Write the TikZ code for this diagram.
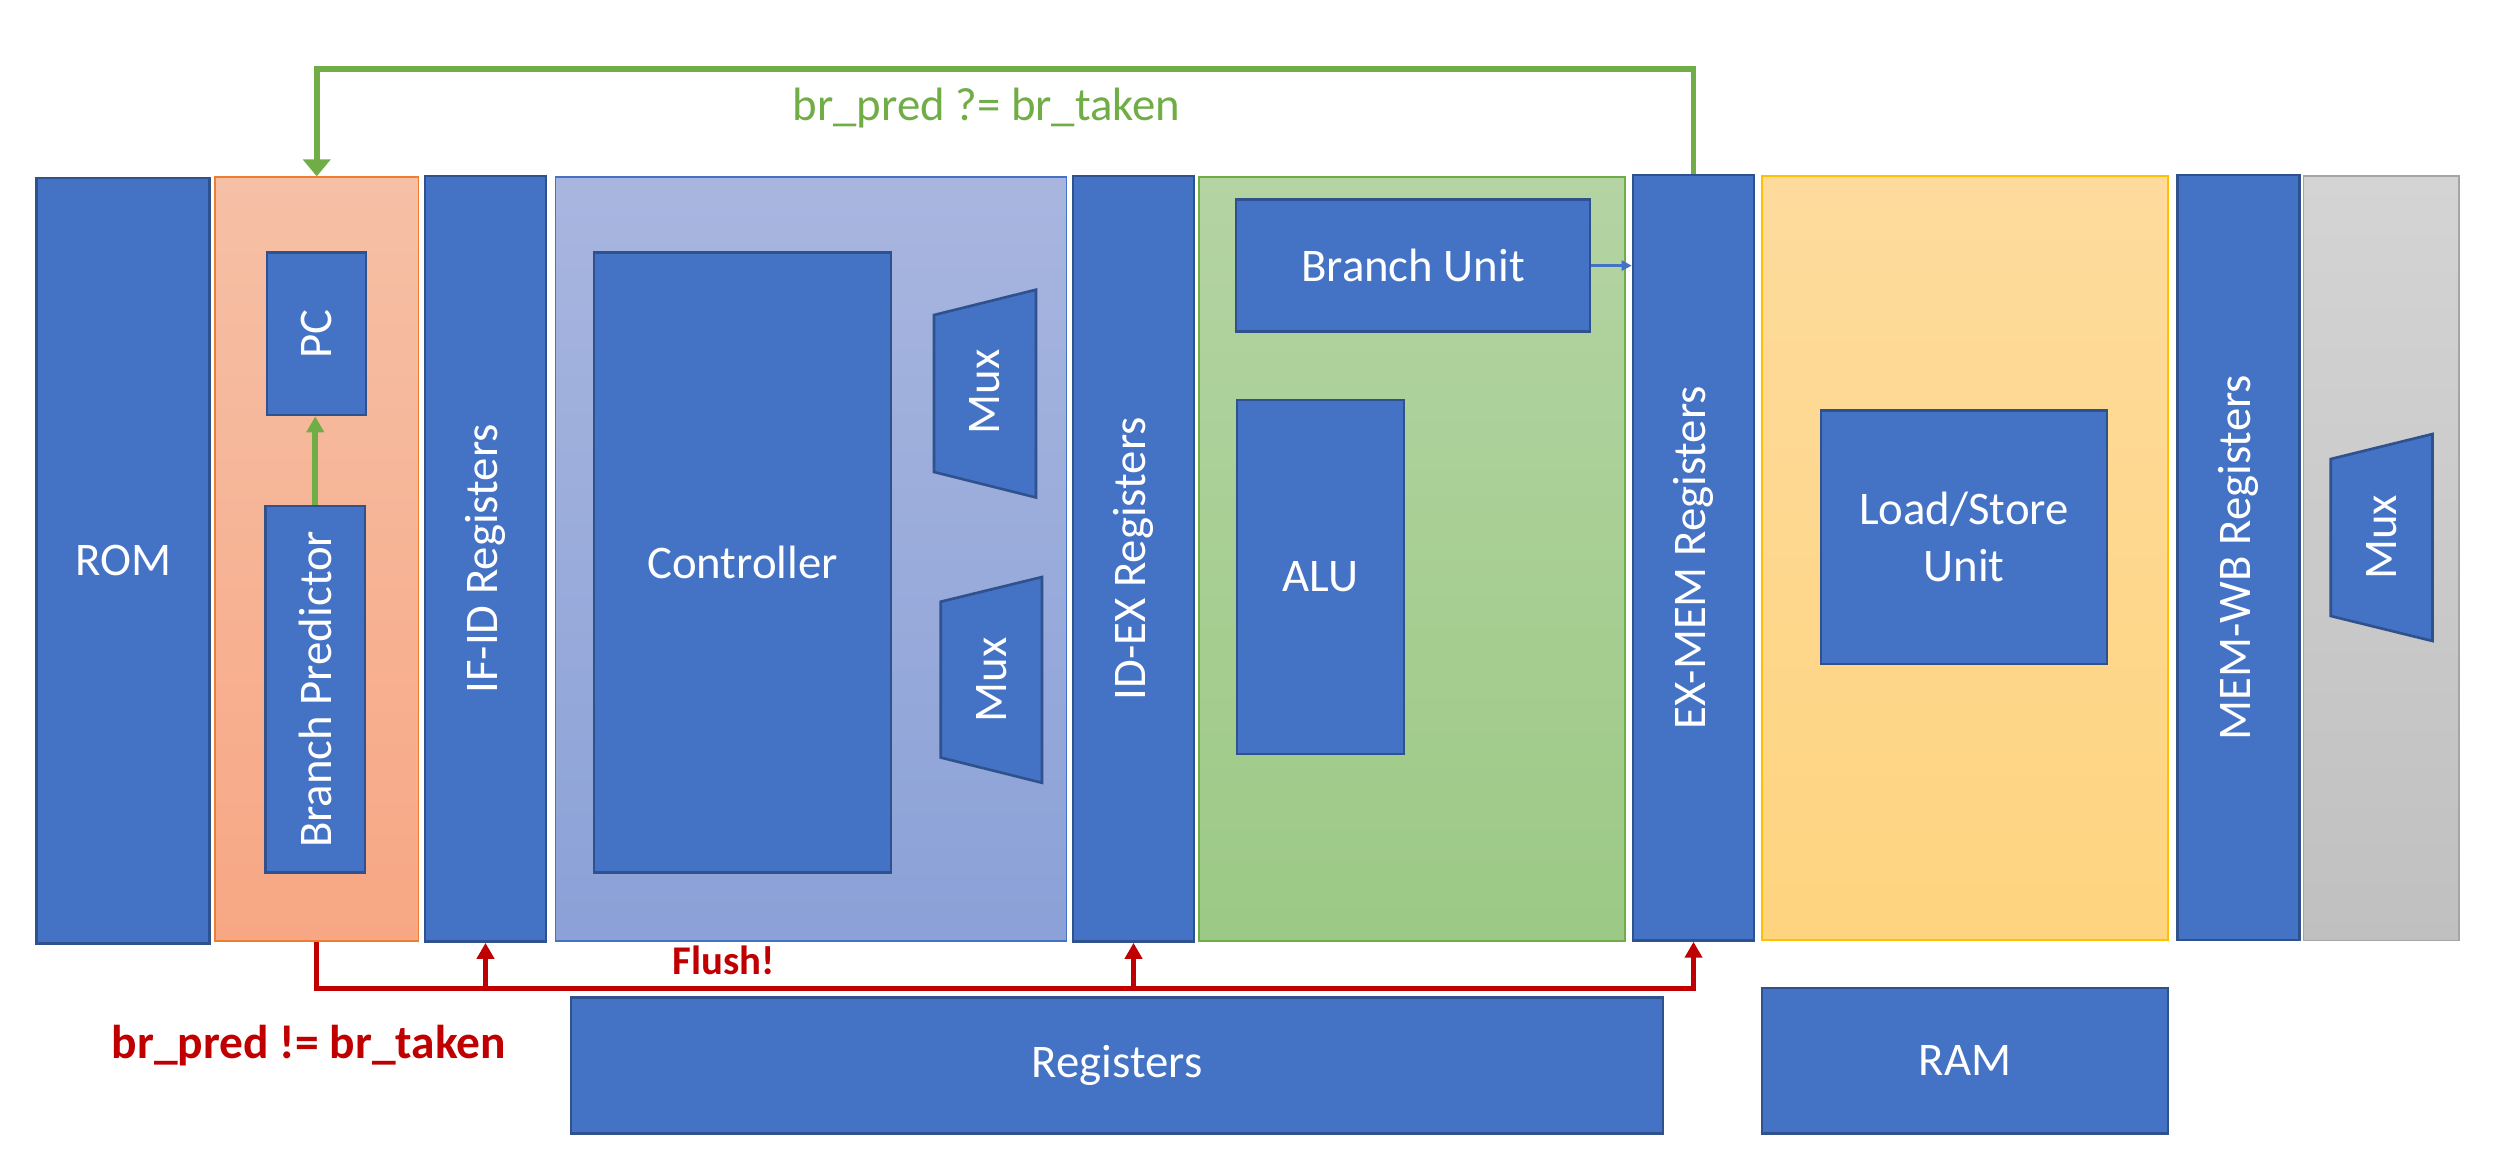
\documentclass[tikz,border=0pt]{standalone}
\usepackage{fontspec}
\setmainfont{Carlito}
\usetikzlibrary{arrows.meta}
\definecolor{blkfill}{HTML}{4472C4}
\definecolor{blkdraw}{HTML}{2F528F}
\definecolor{grnline}{HTML}{70AD47}
\definecolor{redline}{HTML}{C00000}
\newcommand\boxat[6]{\node[#1, minimum width={(#4-#2)*0.01cm}, minimum height={(#5-#3)*0.01cm}] (#6) at ({(#2+#4)/2},{(#3+#5)/2}) {};}
\begin{document}
\begin{tikzpicture}[x=0.01cm,y=-0.01cm,
  blkbox/.style={rectangle, inner sep=0pt, fill=blkfill, draw=blkdraw, line width=0.75pt},
  stagebg/.style={rectangle, inner sep=0pt, line width=0.35pt},
  wtxt/.style={text=white, font=\fontsize{13.3pt}{16.2pt}\selectfont, inner sep=0pt, align=center},
  muxshape/.style={fill=blkfill, draw=blkdraw, line width=0.75pt},
  grnln/.style={draw=grnline, line width=1.65pt},
  redln/.style={draw=redline, line width=1.5pt},
  tipg/.style={-{Triangle[length=0.16cm,width=0.17cm]}},
  tipwide/.style={-{Triangle[length=0.17cm,width=0.27cm]}},
]
\useasboundingbox (0,0) rectangle (2507,1148);

% stage backgrounds
\boxat{stagebg, top color={rgb,255:red,246;green,192;blue,166}, bottom color={rgb,255:red,247;green,167;blue,132}, draw={rgb,255:red,237;green,125;blue,49}}{215}{177}{418.5}{941}{ifst}
\boxat{stagebg, top color={rgb,255:red,168;green,182;blue,223}, bottom color={rgb,255:red,139;green,161;blue,215}, draw=blkfill}{555.7}{177}{1066.7}{941}{idst}
\boxat{stagebg, top color={rgb,255:red,180;green,212;blue,163}, bottom color={rgb,255:red,156;green,201;blue,133}, draw=grnline}{1199}{177}{1625}{941}{exst}
\boxat{stagebg, top color={rgb,255:red,254;green,219;blue,157}, bottom color={rgb,255:red,254;green,212;blue,127}, draw={rgb,255:red,255;green,192;blue,0}}{1762}{176}{2168}{940}{memst}
\boxat{stagebg, top color={rgb,255:red,212;green,212;blue,212}, bottom color={rgb,255:red,192;green,192;blue,192}, draw={rgb,255:red,165;green,165;blue,165}}{2303.4}{176}{2459}{940.4}{wbst}

% blocks
\boxat{blkbox}{36.7}{178}{209.7}{943.3}{rom}
\boxat{blkbox}{267}{252.6}{366}{415}{pc}
\boxat{blkbox}{265.5}{506}{365}{872.7}{bp}
\boxat{blkbox}{425}{176}{546}{941.5}{ifid}
\boxat{blkbox}{594}{252.6}{891}{872.7}{ctrl}
\boxat{blkbox}{1073}{176}{1194}{941.5}{idex}
\boxat{blkbox}{1236}{199.4}{1590}{331.8}{bu}
\boxat{blkbox}{1237}{400}{1404}{754}{alu}
\boxat{blkbox}{1633}{175}{1754}{940.4}{exmem}
\boxat{blkbox}{1820.8}{410.6}{2107}{664}{lsu}
\boxat{blkbox}{2177.6}{175}{2299.4}{940}{memwb}
\boxat{blkbox}{571}{997.6}{1663}{1133.5}{regs}
\boxat{blkbox}{1762}{988}{2168}{1133.5}{ram}

% muxes
\draw[muxshape] (934,315) -- (1036,289.7) -- (1036,497.5) -- (934,472) -- cycle;
\draw[muxshape] (940.7,601.7) -- (1042,577) -- (1042,782.8) -- (940.7,757.5) -- cycle;
\draw[muxshape] (2330.7,459) -- (2432.5,434) -- (2432.5,641) -- (2330.7,616) -- cycle;

% texts in blocks
\node[wtxt] (romt) at (rom) {ROM};
\node[wtxt, rotate=90] (pct) at (pc) {PC};
\node[wtxt, rotate=90] (bpt) at (bp) {Branch Predictor};
\node[wtxt, rotate=90] (ifidt) at (ifid) {IF-ID Registers};
\node[wtxt] (ctrlt) at (ctrl) {Controller};
\node[wtxt, rotate=90] (mux1) at (985,392) {Mux};
\node[wtxt, rotate=90] (mux2) at (991.4,680) {Mux};
\node[wtxt, rotate=90] (idext) at (idex) {ID-EX Registers};
\node[wtxt] (but) at (bu) {Branch Unit};
\node[wtxt] (alut) at (alu) {ALU};
\node[wtxt, rotate=90] (exmemt) at (exmem) {EX-MEM Registers};
\node[wtxt] (lsut) at (lsu) {Load/Store\\Unit};
\node[wtxt, rotate=90] (memwbt) at (memwb) {MEM-WB Registers};
\node[wtxt, rotate=90] (mux3) at (2381.6,537.5) {Mux};
\node[wtxt] (regst) at (regs) {Registers};
\node[wtxt] (ramt) at (ram) {RAM};

% green feedback path
\coordinate (gtop) at (0,69);
\draw[grnln, tipwide] (exmem.north) -- (exmem.north |- gtop) -| (ifst.north);
\draw[grnln, tipg] (bp.north) -- (bp.north |- pc.south);
\node[text=grnline, font=\fontsize{13.3pt}{16pt}\selectfont, anchor=base, inner sep=0pt] (cmp) at (986.5,120.5) {br\_pred ?= br\_taken};

% blue arrow
\draw[draw=blkfill, line width=0.8pt, -{Triangle[length=0.1cm,width=0.1cm]}] (bu.east) -- (bu.east -| exmem.west);

% red flush path
\coordinate (fl) at (316.5,988.6);
\draw[redln, tipg] (ifst.south) |- (exmem.south |- fl) -- (exmem.south);
\draw[redln, tipg] (ifid.south |- fl) -- (ifid.south);
\draw[redln, tipg] (idex.south |- fl) -- (idex.south);
\node[text=redline, font=\fontsize{11.6pt}{14pt}\selectfont\bfseries, anchor=base, inner sep=0pt] (flush) at (723.5,974) {Flush!};
\node[text=redline, font=\fontsize{13.5pt}{16pt}\selectfont\bfseries, anchor=base, inner sep=0pt] (neq) at (309,1058) {br\_pred != br\_taken};
\end{tikzpicture}
\end{document}
